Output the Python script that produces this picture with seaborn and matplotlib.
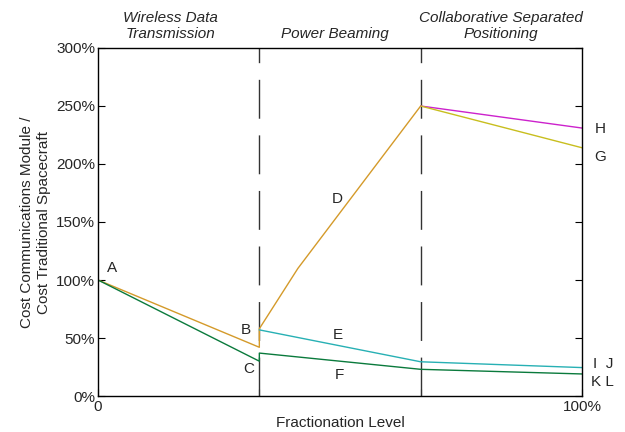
import matplotlib
matplotlib.use("Agg")
import matplotlib.pyplot as plt
import seaborn as sns
import pandas as pd
import numpy as np

sns.set_theme(style="white")
plt.rcParams['font.family'] = ['Liberation Sans', 'DejaVu Sans']

# Data (fraction of fractionation level, cost ratio in %)
orange_x = [0, 1/3, 1/3, 0.413, 2/3]
orange_y = [100, 42, 58, 110, 250]
magenta_x = [2/3, 1.0]
magenta_y = [250, 231]
yellow_x = [2/3, 1.0]
yellow_y = [250, 214]
cyan_x = [1/3, 2/3, 1.0]
cyan_y = [57, 29.5, 24.5]
green_x = [0, 1/3, 1/3, 2/3, 1.0]
green_y = [100, 30, 37, 23, 19]

point_labels = ['A', 'B', 'C', 'D', 'E', 'F', 'H', 'G', 'I  J', 'K L']
label_x = [0.029, 0.306, 0.312, 0.494, 0.496, 0.498, 1.037, 1.037, 1.043, 1.043]
label_y = [110, 57, 23, 170, 53, 18, 230, 206, 28, 12]

regions = ['Wireless Data\nTransmission', 'Power Beaming', 'Collaborative Separated\nPositioning']
region_x = [0.149, 0.490, 0.833]

yticks = [0, 50, 100, 150, 200, 250, 300]
ytick_labels = ['0%', '50%', '100%', '150%', '200%', '250%', '300%']

fig = plt.figure(figsize=(6.25, 4.32), dpi=100)
ax = fig.add_axes([98/625, 1 - 396/432, 484/625, 348/432])

def draw(xs, ys, color, lw=1.0):
    df = pd.DataFrame({'x': xs, 'y': ys})
    sns.lineplot(data=df, x='x', y='y', ax=ax, color=color, lw=lw,
                 sort=False, estimator=None)

draw(orange_x, orange_y, '#d49a2a')
draw(magenta_x, magenta_y, '#cc22cc')
draw(yellow_x, yellow_y, '#c8be1e')
draw(cyan_x, cyan_y, '#27b0b4')
draw(green_x, green_y, '#0a7a3c')

for xv in [1/3, 2/3]:
    ax.axvline(xv, color='#333333', lw=1.0, linestyle=(0, (28, 12)), zorder=1)

ax.set_xlim(0, 1)
ax.set_ylim(0, 300)
ax.set_yticks(yticks)
ax.set_yticklabels(ytick_labels, fontsize=11)
ax.set_xticks([0, 1/3, 2/3, 1])
ax.set_xticklabels(['0', '', '', '100%'], fontsize=11)
ax.tick_params(axis='both', direction='in', length=5, width=0.8, color='black',
               right=True, left=True, bottom=True, top=False, pad=2)
ax.tick_params(axis='y', pad=2)
ax.tick_params(axis='x', pad=3)
for s in ax.spines.values():
    s.set_color('black')
    s.set_linewidth(1.0)

ax.set_xlabel('Fractionation Level', fontsize=11, labelpad=1)
ax.set_ylabel('Cost Communications Module /\nCost Traditional Spacecraft', fontsize=11, labelpad=4)

for t, x, y in zip(point_labels, label_x, label_y):
    ax.text(x, y, t, fontsize=11, ha='center', va='center', clip_on=False)

for t, x in zip(regions, region_x):
    ax.text(x, 1.02, t, transform=ax.transAxes, fontsize=11, style='italic',
            ha='center', va='bottom', linespacing=1.15)

fig.savefig('out.png', dpi=100)
